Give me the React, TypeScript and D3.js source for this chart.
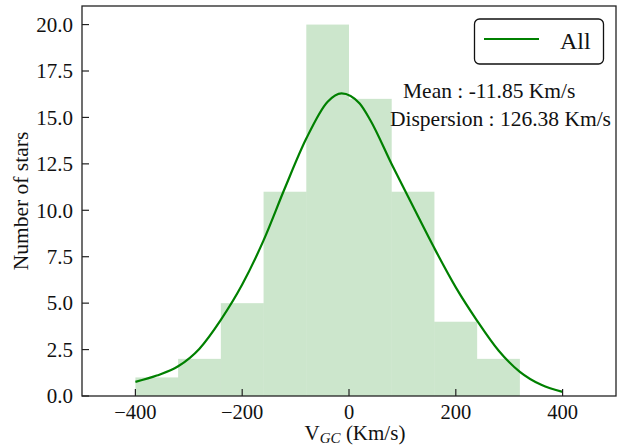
import React from 'react';
import * as d3 from 'd3';

// histogram bins (left edges) and counts
const binEdges = [-400, -320, -240, -160, -80, 0, 80, 160, 240, 320];
const counts = [1, 2, 5, 11, 20, 16, 11, 4, 2];

// smoothed density curve
const curveX = [-400, -360, -320, -280, -240, -200, -160, -120, -80, -40, -14, 20, 40, 80, 120, 160, 200, 240, 280, 320, 360, 400];
const curveY = [0.76, 1.1, 1.6, 2.55, 4.1, 6.0, 8.38, 11.2, 13.86, 15.85, 16.3, 15.75, 14.85, 12.48, 10.2, 7.95, 5.85, 4.05, 2.45, 1.3, 0.6, 0.22];

const xTicks = [-400, -200, 0, 200, 400];
const yTicks = [0, 2.5, 5, 7.5, 10, 12.5, 15, 17.5, 20];

const W = 627;
const H = 445;
const margin = { left: 82, right: 11, top: 6, bottom: 49 };
const FONT = '"Liberation Serif", "DejaVu Serif", serif';

export default function App() {
  const x = d3.scaleLinear().domain([-500, 500]).range([margin.left, W - margin.right]);
  const y = d3.scaleLinear().domain([0, 21]).range([H - margin.bottom, margin.top]);

  const line = d3.line<number>()
    .x((_, i) => x(curveX[i]))
    .y(d => y(d))
    .curve(d3.curveMonotoneX);

  const x0 = margin.left, x1 = W - margin.right;
  const y0 = H - margin.bottom, y1 = margin.top;
  const fmtX = (v: number) => (v < 0 ? '\u2212' + Math.abs(v) : String(v));

  return (
    <svg width={W} height={H} style={{ position: 'absolute', left: 0, top: 0, background: '#fff' }} fontFamily={FONT}>
      {/* bars */}
      {counts.map((c, i) => (
        <rect key={i}
          x={x(binEdges[i])}
          y={y(c)}
          width={x(binEdges[i + 1]) - x(binEdges[i])}
          height={y(0) - y(c)}
          fill="#008000" fillOpacity={0.2} />
      ))}

      {/* kde curve */}
      <path d={line(curveY) || ''} fill="none" stroke="#008000" strokeWidth={2.2} />

      {/* ticks (inward) */}
      {xTicks.map(t => (
        <g key={t}>
          <line x1={x(t)} x2={x(t)} y1={y0} y2={y0 - 7} stroke="#222" strokeWidth={1.2} />
          <text x={x(t)} y={419} textAnchor="middle" fontSize={20.5} fill="#111">{fmtX(t)}</text>
        </g>
      ))}
      {yTicks.map(t => (
        <g key={t}>
          <line x1={x0} x2={x0 + 7} y1={y(t)} y2={y(t)} stroke="#222" strokeWidth={1.2} />
          <text x={73} y={y(t) + 7.3} textAnchor="end" fontSize={21} fill="#111">{t.toFixed(1)}</text>
        </g>
      ))}

      {/* frame */}
      <rect x={x0} y={y1} width={x1 - x0} height={y0 - y1} fill="none" stroke="#222" strokeWidth={1.3} />

      {/* axis labels */}
      <text x={(x0 + x1) / 2 + 6} y={440} textAnchor="middle" fontSize={21} fill="#111">
        V<tspan fontStyle="italic" fontSize={15} dy={3}>GC</tspan><tspan dy={-3}> (Km/s)</tspan>
      </text>
      <text transform={`translate(28,${(y0 + y1) / 2}) rotate(-90)`} textAnchor="middle" fontSize={21.5} fill="#111">
        Number of stars
      </text>

      {/* legend */}
      <rect x={474.5} y={19} width={129} height={45} rx={5} fill="#fff" stroke="#111" strokeWidth={1.3} />
      <line x1={484} x2={539} y1={39} y2={39} stroke="#008000" strokeWidth={2.2} />
      <text x={560} y={48.5} fontSize={24} fill="#111">All</text>

      {/* stats */}
      <text x={403} y={98} fontSize={21.5} fill="#111">Mean : -11.85 Km/s</text>
      <text x={390} y={126} fontSize={21.5} fill="#111">Dispersion : 126.38 Km/s</text>
    </svg>
  );
}
